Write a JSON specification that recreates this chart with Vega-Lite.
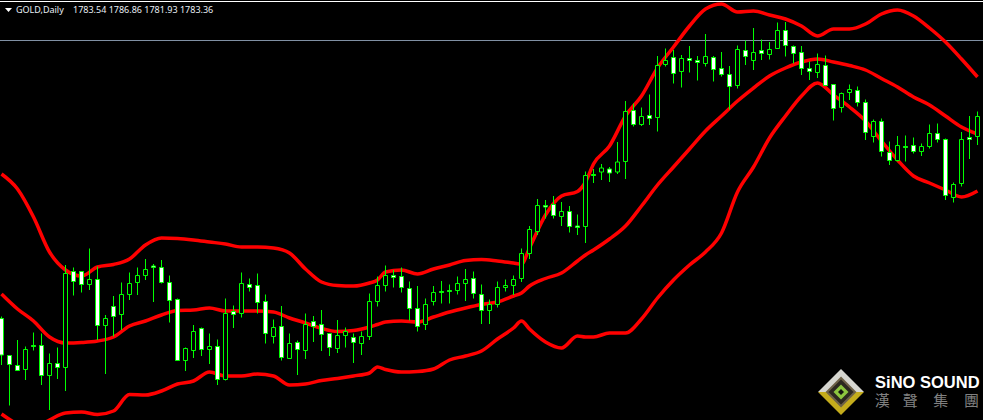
{"$schema":"https://vega.github.io/schema/vega-lite/v6.json","autosize":{"type":"none"},"width":983,"height":420,"padding":0,"background":"#000000","view":{"stroke":null},
"datasets":{
"candles":[
{"d":0,"h":1506.5,"l":1458,"o":1504.5,"c":1468,"dir":"down"},{"d":1,"h":1468,"l":1417.5,"o":1467.5,"c":1458.5,"dir":"down"},{"d":2,"h":1483,"l":1453,"o":1457.5,"c":1452.5,"dir":"down"},{"d":3,"h":1476.5,"l":1443,"o":1453.5,"c":1473.5,"dir":"up"},{"d":4,"h":1490.5,"l":1472.5,"o":1477.5,"c":1476.5,"dir":"down"},{"d":5,"h":1489.5,"l":1438,"o":1477.5,"c":1447.5,"dir":"down"},{"d":6,"h":1469.5,"l":1413,"o":1447.5,"c":1459.5,"dir":"up"},{"d":7,"h":1475.5,"l":1444,"o":1459.5,"c":1455.5,"dir":"down"},{"d":8,"h":1558,"l":1432,"o":1455.5,"c":1549.5,"dir":"up"},{"d":9,"h":1555.5,"l":1527.5,"o":1551.5,"c":1541.5,"dir":"down"},
{"d":10,"h":1551.5,"l":1530.5,"o":1551.5,"c":1538.5,"dir":"down"},{"d":11,"h":1574.5,"l":1533,"o":1538.5,"c":1543.5,"dir":"up"},{"d":12,"h":1556.5,"l":1483,"o":1543.5,"c":1497.5,"dir":"down"},{"d":13,"h":1508,"l":1449,"o":1497.5,"c":1504.5,"dir":"up"},{"d":14,"h":1527,"l":1486.5,"o":1516.5,"c":1506.5,"dir":"down"},{"d":15,"h":1540.5,"l":1493,"o":1508.5,"c":1528.5,"dir":"up"},{"d":16,"h":1550.5,"l":1523,"o":1528.5,"c":1539.5,"dir":"up"},{"d":17,"h":1555.5,"l":1528,"o":1540.5,"c":1547.5,"dir":"up"},{"d":18,"h":1564,"l":1543,"o":1547.5,"c":1553.5,"dir":"up"},{"d":19,"h":1559,"l":1521,"o":1557,"c":1555.5,"dir":"down"},
{"d":20,"h":1563,"l":1539.5,"o":1555.5,"c":1540.5,"dir":"down"},{"d":21,"h":1547.5,"l":1500.5,"o":1540.5,"c":1522.5,"dir":"down"},{"d":22,"h":1524.5,"l":1462.5,"o":1523.5,"c":1462.5,"dir":"down"},{"d":23,"h":1475.5,"l":1452,"o":1462.5,"c":1474.5,"dir":"up"},{"d":24,"h":1498,"l":1465,"o":1472.5,"c":1491.5,"dir":"up"},{"d":25,"h":1495.5,"l":1467,"o":1494.5,"c":1473.5,"dir":"down"},{"d":26,"h":1489.5,"l":1459,"o":1473.5,"c":1476.5,"dir":"up"},{"d":27,"h":1483.5,"l":1438,"o":1476.5,"c":1443.5,"dir":"down"},{"d":28,"h":1524.5,"l":1442.5,"o":1443.5,"c":1509.5,"dir":"up"},{"d":29,"h":1517.5,"l":1495,"o":1511.5,"c":1508.5,"dir":"down"},
{"d":30,"h":1550.5,"l":1505.5,"o":1509.5,"c":1539.5,"dir":"up"},{"d":31,"h":1544.5,"l":1531.5,"o":1538.5,"c":1535.5,"dir":"down"},{"d":32,"h":1549.5,"l":1509.5,"o":1537.5,"c":1520.5,"dir":"down"},{"d":33,"h":1528.5,"l":1479.5,"o":1521.5,"c":1489.5,"dir":"down"},{"d":34,"h":1503.5,"l":1479.5,"o":1486.5,"c":1495.5,"dir":"up"},{"d":35,"h":1517,"l":1462.5,"o":1496.5,"c":1465.5,"dir":"down"},{"d":36,"h":1489.5,"l":1464.5,"o":1464.5,"c":1479.5,"dir":"up"},{"d":37,"h":1482.5,"l":1448,"o":1480.5,"c":1473.5,"dir":"down"},{"d":38,"h":1509.5,"l":1464,"o":1472.5,"c":1498.5,"dir":"up"},{"d":39,"h":1507,"l":1481,"o":1501.5,"c":1496.5,"dir":"down"},
{"d":40,"h":1513,"l":1472,"o":1498.5,"c":1488.5,"dir":"down"},{"d":41,"h":1489.5,"l":1467,"o":1489.5,"c":1475.5,"dir":"down"},{"d":42,"h":1503,"l":1470,"o":1474.5,"c":1487.5,"dir":"up"},{"d":43,"h":1495.5,"l":1475.5,"o":1487.5,"c":1491.5,"dir":"up"},{"d":44,"h":1489.5,"l":1460,"o":1485.5,"c":1480.5,"dir":"down"},{"d":45,"h":1491.5,"l":1468,"o":1479.5,"c":1486.5,"dir":"up"},{"d":46,"h":1529.5,"l":1483,"o":1486.5,"c":1521.5,"dir":"up"},{"d":47,"h":1546.5,"l":1516.5,"o":1521.5,"c":1537.5,"dir":"up"},{"d":48,"h":1557.5,"l":1531.5,"o":1537.5,"c":1547.5,"dir":"up"},{"d":49,"h":1553,"l":1535.5,"o":1547.5,"c":1545.5,"dir":"down"},
{"d":50,"h":1555.5,"l":1530.5,"o":1546.5,"c":1535.5,"dir":"down"},{"d":51,"h":1541.5,"l":1502.5,"o":1534.5,"c":1514.5,"dir":"down"},{"d":52,"h":1537,"l":1491.5,"o":1514.5,"c":1496.5,"dir":"down"},{"d":53,"h":1524.5,"l":1493,"o":1498.5,"c":1518.5,"dir":"up"},{"d":54,"h":1537,"l":1517.5,"o":1521.5,"c":1530.5,"dir":"up"},{"d":55,"h":1542,"l":1519.5,"o":1531.5,"c":1530.5,"dir":"down"},{"d":56,"h":1538.5,"l":1519.5,"o":1532.5,"c":1531.5,"dir":"down"},{"d":57,"h":1546.5,"l":1528.5,"o":1532.5,"c":1539.5,"dir":"up"},{"d":58,"h":1554,"l":1522,"o":1539.5,"c":1543.5,"dir":"up"},{"d":59,"h":1551.5,"l":1524.5,"o":1544.5,"c":1529.5,"dir":"down"},
{"d":60,"h":1538.5,"l":1499,"o":1528.5,"c":1512.5,"dir":"down"},{"d":61,"h":1523.5,"l":1499,"o":1512.5,"c":1518.5,"dir":"up"},{"d":62,"h":1541.5,"l":1515.5,"o":1518.5,"c":1535.5,"dir":"up"},{"d":63,"h":1543.5,"l":1531.5,"o":1535.5,"c":1537.5,"dir":"up"},{"d":64,"h":1547.5,"l":1528,"o":1537.5,"c":1543.5,"dir":"up"},{"d":65,"h":1574.5,"l":1541,"o":1544.5,"c":1569.5,"dir":"up"},{"d":66,"h":1597,"l":1564,"o":1569.5,"c":1593.5,"dir":"up"},{"d":67,"h":1624,"l":1588,"o":1591.5,"c":1617.5,"dir":"up"},{"d":68,"h":1623,"l":1604.5,"o":1617.5,"c":1616,"dir":"down"},{"d":69,"h":1627,"l":1604.5,"o":1618.5,"c":1607.5,"dir":"down"},
{"d":70,"h":1621,"l":1597,"o":1606.5,"c":1611.5,"dir":"up"},{"d":71,"h":1617,"l":1590.5,"o":1611.5,"c":1596.5,"dir":"down"},{"d":72,"h":1608.5,"l":1588,"o":1597,"c":1595.5,"dir":"down"},{"d":73,"h":1651.5,"l":1580,"o":1596.5,"c":1647.5,"dir":"up"},{"d":74,"h":1654,"l":1640,"o":1648.5,"c":1647.5,"dir":"down"},{"d":75,"h":1659,"l":1643,"o":1651,"c":1655,"dir":"up"},{"d":76,"h":1656,"l":1641,"o":1654,"c":1650,"dir":"down"},{"d":77,"h":1681,"l":1649,"o":1651,"c":1661,"dir":"up"},{"d":78,"h":1722,"l":1644,"o":1661.5,"c":1711.5,"dir":"up"},{"d":79,"h":1719.5,"l":1696.5,"o":1712.5,"c":1698.5,"dir":"down"},
{"d":80,"h":1715.5,"l":1697,"o":1698.5,"c":1706.5,"dir":"up"},{"d":81,"h":1728.5,"l":1698,"o":1707.5,"c":1704.5,"dir":"down"},{"d":82,"h":1767,"l":1691.5,"o":1705.5,"c":1757.5,"dir":"up"},{"d":83,"h":1774.5,"l":1756.5,"o":1758.5,"c":1762.5,"dir":"up"},{"d":84,"h":1773,"l":1739.5,"o":1765.5,"c":1749.5,"dir":"down"},{"d":85,"h":1768,"l":1735.5,"o":1751.5,"c":1764.5,"dir":"up"},{"d":86,"h":1777,"l":1750.5,"o":1764.5,"c":1762.5,"dir":"down"},{"d":87,"h":1767,"l":1742.5,"o":1762.5,"c":1760.5,"dir":"down"},{"d":88,"h":1789,"l":1756.5,"o":1759.5,"c":1766.5,"dir":"up"},{"d":89,"h":1767,"l":1741.5,"o":1765.5,"c":1753.5,"dir":"down"},
{"d":90,"h":1771,"l":1746.5,"o":1754.5,"c":1748.5,"dir":"down"},{"d":91,"h":1757,"l":1713.5,"o":1748.5,"c":1736.5,"dir":"down"},{"d":92,"h":1777.5,"l":1734.5,"o":1737.5,"c":1773.5,"dir":"up"},{"d":93,"h":1782.5,"l":1758,"o":1772.5,"c":1766.5,"dir":"down"},{"d":94,"h":1795,"l":1753,"o":1762.5,"c":1770.5,"dir":"up"},{"d":95,"h":1783.5,"l":1763,"o":1772.5,"c":1769.5,"dir":"down"},{"d":96,"h":1781,"l":1763.5,"o":1768.5,"c":1773.5,"dir":"up"},{"d":97,"h":1800.5,"l":1774.5,"o":1774.5,"c":1792.5,"dir":"up"},{"d":98,"h":1801,"l":1766.5,"o":1792.5,"c":1777.5,"dir":"down"},{"d":99,"h":1777.5,"l":1759.5,"o":1776.5,"c":1769.5,"dir":"down"},
{"d":100,"h":1777,"l":1748,"o":1770.5,"c":1754.5,"dir":"down"},{"d":101,"h":1761.5,"l":1743,"o":1754.5,"c":1751.5,"dir":"down"},{"d":102,"h":1769.5,"l":1745,"o":1750.5,"c":1758.5,"dir":"up"},{"d":103,"h":1767.5,"l":1737,"o":1757.5,"c":1737.5,"dir":"down"},{"d":104,"h":1738.5,"l":1702.5,"o":1738.5,"c":1714.5,"dir":"down"},{"d":105,"h":1730.5,"l":1710.5,"o":1715.5,"c":1729.5,"dir":"up"},{"d":106,"h":1738.5,"l":1723,"o":1730.5,"c":1733.5,"dir":"up"},{"d":107,"h":1736.5,"l":1716.5,"o":1732.5,"c":1720.5,"dir":"down"},{"d":108,"h":1723.5,"l":1683,"o":1720.5,"c":1690.5,"dir":"down"},{"d":109,"h":1703.5,"l":1680.5,"o":1686.5,"c":1701.5,"dir":"up"},
{"d":110,"h":1704.5,"l":1666.5,"o":1701.5,"c":1671.5,"dir":"down"},{"d":111,"h":1681.5,"l":1658,"o":1670.5,"c":1662.5,"dir":"down"},{"d":112,"h":1687,"l":1661.5,"o":1662.5,"c":1677.5,"dir":"up"},{"d":113,"h":1687.5,"l":1661.5,"o":1676.5,"c":1675.5,"dir":"down"},{"d":114,"h":1685.5,"l":1669.5,"o":1677.5,"c":1671.5,"dir":"down"},{"d":115,"h":1679.5,"l":1667,"o":1671.5,"c":1676.5,"dir":"up"},{"d":116,"h":1698.5,"l":1674.5,"o":1676.5,"c":1689.5,"dir":"up"},{"d":117,"h":1699.5,"l":1680.5,"o":1689.5,"c":1683.5,"dir":"down"},{"d":118,"h":1684.5,"l":1623,"o":1683.5,"c":1627.5,"dir":"down"},{"d":119,"h":1640.5,"l":1620.5,"o":1625.5,"c":1638.5,"dir":"up"},
{"d":120,"h":1691,"l":1636.5,"o":1639.5,"c":1683.5,"dir":"up"},{"d":121,"h":1707,"l":1664,"o":1685.5,"c":1683.5,"dir":"down"},{"d":122,"h":1711.5,"l":1678,"o":1686.5,"c":1706.5,"dir":"up"}],
"bands":[
{"d":0,"u":1649,"m":1529,"b":1409},{"d":2,"u":1634,"m":1514,"b":1399},{"d":4,"u":1606,"m":1502,"b":1395},{"d":6,"u":1571,"m":1486,"b":1403},{"d":8,"u":1553,"m":1480,"b":1410},{"d":10,"u":1547,"m":1480.5,"b":1411},{"d":12,"u":1556,"m":1482,"b":1408.5},{"d":14,"u":1558.5,"m":1486,"b":1412},{"d":16,"u":1564,"m":1497,"b":1428.5},{"d":18,"u":1578,"m":1502,"b":1428},{"d":20,"u":1585,"m":1508,"b":1432},{"d":22,"u":1584.5,"m":1512.5,"b":1439},{"d":24,"u":1583,"m":1513,"b":1442},{"d":26,"u":1581,"m":1515,"b":1451},{"d":28,"u":1579,"m":1512,"b":1447},{"d":30,"u":1576,"m":1512,"b":1447},{"d":32,"u":1576,"m":1512,"b":1449},{"d":34,"u":1575,"m":1511,"b":1447},{"d":36,"u":1570,"m":1505,"b":1438},{"d":38,"u":1554,"m":1500,"b":1439},{"d":40,"u":1541,"m":1494.5,"b":1442.5},{"d":42,"u":1537.5,"m":1491.5,"b":1444.5},{"d":44,"u":1537,"m":1492.5,"b":1447},{"d":46,"u":1540,"m":1496,"b":1450},{"d":47,"u":1543,"m":1498.5,"b":1456},{"d":48,"u":1551,"m":1501,"b":1453.5},{"d":50,"u":1553,"m":1502,"b":1451},{"d":52,"u":1549,"m":1501,"b":1451.5},{"d":54,"u":1554,"m":1506,"b":1454},{"d":56,"u":1558,"m":1511,"b":1463},{"d":58,"u":1562.5,"m":1515,"b":1467},{"d":60,"u":1563.5,"m":1518.5,"b":1472},{"d":62,"u":1562,"m":1521,"b":1484},{"d":64,"u":1560,"m":1527,"b":1495},{"d":65,"u":1559,"m":1530,"b":1502},{"d":66,"u":1575,"m":1537,"b":1494},{"d":68,"u":1608,"m":1544.5,"b":1481},{"d":70,"u":1627,"m":1550,"b":1475},{"d":72,"u":1631.5,"m":1562,"b":1487},{"d":73,"u":1641,"m":1568,"b":1486},{"d":74,"u":1659,"m":1573,"b":1486},{"d":76,"u":1677,"m":1584,"b":1490},{"d":78,"u":1707,"m":1597,"b":1490},{"d":80,"u":1727,"m":1617,"b":1504},{"d":82,"u":1755,"m":1638,"b":1525},{"d":84,"u":1776,"m":1656,"b":1543},{"d":86,"u":1797,"m":1674,"b":1558},{"d":88,"u":1814,"m":1692,"b":1571},{"d":90,"u":1819,"m":1707,"b":1590},{"d":92,"u":1811,"m":1722,"b":1631},{"d":94,"u":1812,"m":1735,"b":1656},{"d":96,"u":1808,"m":1747,"b":1685},{"d":98,"u":1804,"m":1755,"b":1707},{"d":100,"u":1797,"m":1761,"b":1727},{"d":102,"u":1787,"m":1764,"b":1740},{"d":104,"u":1794,"m":1761,"b":1728},{"d":106,"u":1794,"m":1757.5,"b":1716},{"d":108,"u":1799,"m":1753,"b":1702},{"d":110,"u":1809,"m":1744.5,"b":1682},{"d":112,"u":1813,"m":1736,"b":1663},{"d":114,"u":1807,"m":1726,"b":1647},{"d":116,"u":1795,"m":1718,"b":1640},{"d":118,"u":1781,"m":1707,"b":1633},{"d":120,"u":1764,"m":1696,"b":1626},{"d":122,"u":1746,"m":1689,"b":1632}],
"logo":[{"d":104.94,"p":1431}],
"head":[{"d":1.81,"p":1813,"t":"GOLD,Daily"},{"d":8.94,"p":1813,"t":"1783.54 1786.86 1781.93 1783.36"}],
"arrow":[{"d":0.875,"p":1813}],
"brand":[{"d":109.2,"p":1440,"t":"SiNO SOUND"}],
"cjk":[{"d":110.1,"p":1422,"t":"漢"},{"d":113.6,"p":1422,"t":"聲"},{"d":117.4,"p":1422,"t":"集"},{"d":121.25,"p":1422,"t":"團"}]
},
"encoding":{"x":{"field":"d","type":"quantitative","scale":{"domain":[-0.1875,122.6875],"nice":false,"zero":false,"padding":0},"axis":null}},
"layer":[
{"data":{"values":[{"p":1782.5,"d":-0.1875,"d1":122.6875}]},"mark":{"type":"rule","stroke":"#8090a4","strokeWidth":1},"encoding":{"x2":{"field":"d1"},"y":{"field":"p","type":"quantitative","scale":{"domain":[1403,1823],"nice":false,"zero":false,"padding":0},"axis":null}}},
{"data":{"values":[{"p":1821.5,"d":-0.1875,"d1":122.6875}]},"mark":{"type":"rule","stroke":"#ffffff","strokeWidth":1},"encoding":{"x2":{"field":"d1"},"y":{"field":"p","type":"quantitative"}}},
{"data":{"name":"bands"},"mark":{"type":"line","stroke":"#ff0000","strokeWidth":3.5,"interpolate":"monotone"},"encoding":{"y":{"field":"u","type":"quantitative"}}},
{"data":{"name":"bands"},"mark":{"type":"line","stroke":"#ff0000","strokeWidth":3.5,"interpolate":"monotone"},"encoding":{"y":{"field":"m","type":"quantitative"}}},
{"data":{"name":"bands"},"mark":{"type":"line","stroke":"#ff0000","strokeWidth":3.5,"interpolate":"monotone","clip":true},"encoding":{"y":{"field":"b","type":"quantitative"}}},
{"data":{"name":"candles"},"mark":{"type":"rule","stroke":"#00ff00","strokeWidth":1},"encoding":{"y":{"field":"l","type":"quantitative"},"y2":{"field":"h"}}},
{"data":{"name":"candles"},"mark":{"type":"bar","size":4,"stroke":"#00ff00","strokeWidth":1},"encoding":{"y":{"field":"o","type":"quantitative"},"y2":{"field":"c"},"fill":{"field":"dir","type":"nominal","scale":{"domain":["up","down"],"range":["#000000","#ffffff"]},"legend":null}}},
{"data":{"name":"arrow"},"mark":{"type":"point","shape":"M-1,-0.6L1,-0.6L0,0.6Z","size":49,"filled":true,"fill":"#ffffff","stroke":null,"opacity":1},"encoding":{"y":{"field":"p","type":"quantitative"}}},
{"data":{"name":"head"},"mark":{"type":"text","align":"left","baseline":"middle","font":"Noto Sans","fontSize":9,"fill":"#e8eef4"},"encoding":{"y":{"field":"p","type":"quantitative"},"text":{"field":"t"}}},
{"data":{"name":"logo"},"mark":{"type":"point","shape":"M-1,0L1,0L0,1Z","size":2116,"filled":true,"fill":"#c4ac1c","stroke":null,"opacity":1},"encoding":{"y":{"field":"p","type":"quantitative"}}},
{"data":{"name":"logo"},"mark":{"type":"point","shape":"M-1,0L0,-1L1,0Z","size":2116,"filled":true,"fill":"#d6d6d0","stroke":null,"opacity":1},"encoding":{"y":{"field":"p","type":"quantitative"}}},
{"data":{"name":"logo"},"mark":{"type":"point","shape":"diamond","size":784,"filled":true,"fill":"#2c2820","stroke":"#6e6248","strokeWidth":2,"opacity":1},"encoding":{"y":{"field":"p","type":"quantitative"}}},
{"data":{"name":"logo"},"mark":{"type":"point","shape":"diamond","size":225,"filled":true,"fill":"#8dc63f","stroke":null,"opacity":1},"encoding":{"y":{"field":"p","type":"quantitative"}}},
{"data":{"name":"logo"},"mark":{"type":"point","shape":"diamond","size":36,"filled":true,"fill":"#141410","stroke":null,"opacity":1},"encoding":{"y":{"field":"p","type":"quantitative"}}},
{"data":{"name":"brand"},"mark":{"type":"text","align":"left","baseline":"middle","font":"Liberation Sans","fontWeight":"bold","fontSize":16.5,"fill":"#ffffff"},"encoding":{"y":{"field":"p","type":"quantitative"},"text":{"field":"t"}}},
{"data":{"name":"cjk"},"mark":{"type":"text","align":"center","baseline":"middle","font":"Noto Sans CJK TC","fontSize":15,"fill":"#808080"},"encoding":{"y":{"field":"p","type":"quantitative"},"text":{"field":"t"}}}
]}
